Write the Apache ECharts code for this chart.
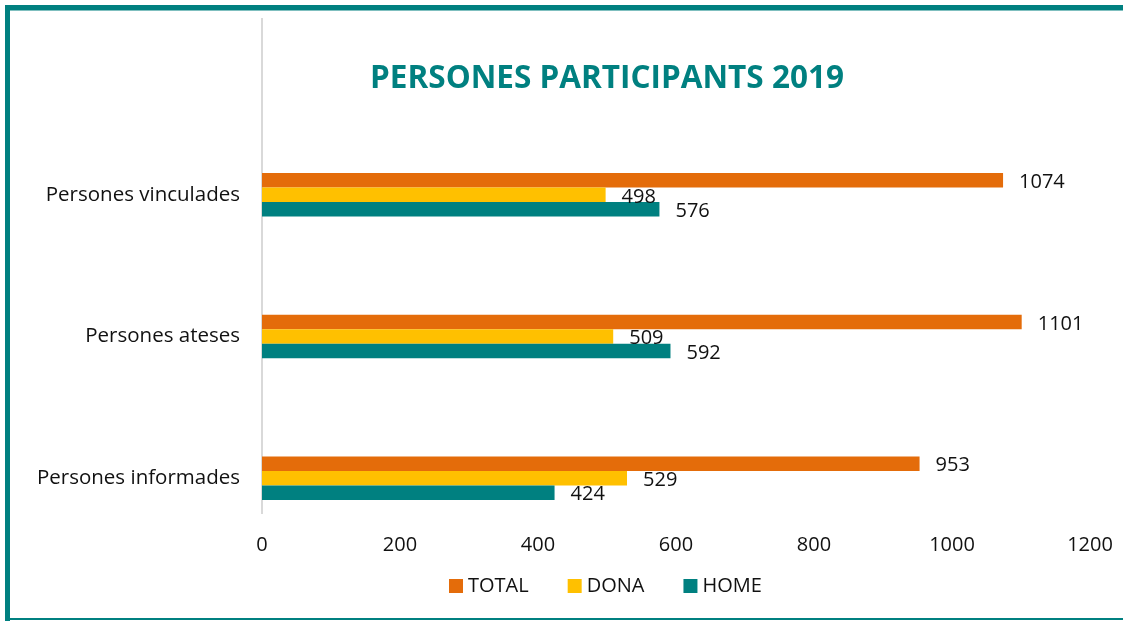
<!DOCTYPE html>
<html>
<head>
<meta charset="utf-8">
<script src="https://cdn.jsdelivr.net/npm/echarts@6/dist/echarts.min.js"></script>
<style>
html,body{margin:0;padding:0;background:#fff;}
#chart{width:1123px;height:621px;}
</style>
</head>
<body>
<div id="chart"></div>
<script>
var categories = ['Persones informades', 'Persones ateses', 'Persones vinculades'];
var totalValues = [953, 1101, 1074];
var donaValues = [529, 509, 498];
var homeValues = [424, 592, 576];
var seriesNames = ['TOTAL', 'DONA', 'HOME'];
var xTicks = [0, 200, 400, 600, 800, 1000, 1200];
var titleText = 'PERSONES PARTICIPANTS 2019';

var colors = {TOTAL: '#E46C0A', DONA: '#FFC000', HOME: '#008080'};
var FONT = 'Open Sans';

var chart = echarts.init(document.getElementById('chart'), null, {renderer: 'canvas'});

function barSeries(name, data) {
  return {
    name: name,
    type: 'bar',
    data: data,
    barWidth: 14.5,
    barGap: '0%',
    itemStyle: {color: colors[name]},
    label: {
      show: true,
      position: 'right',
      distance: 16,
      offset: [0, 2],
      color: '#111',
      fontFamily: FONT,
      fontSize: 20
    },
    emphasis: {disabled: true},
    animation: false
  };
}

var option = {
  animation: false,
  title: {
    text: titleText,
    left: 602,
    top: 58,
    textAlign: 'center',
    textStyle: {color: '#008080', fontFamily: FONT, fontWeight: 'bold', fontSize: 31.5}
  },
  legend: {
    data: seriesNames,
    left: 449,
    top: 576,
    padding: 0,
    icon: 'rect',
    itemWidth: 14,
    itemHeight: 14,
    itemGap: 39,
    textStyle: {color: '#111', fontFamily: FONT, fontSize: 20}
  },
  grid: {left: 262, right: 33, top: 124, bottom: 72, containLabel: false},
  xAxis: {
    type: 'value',
    min: xTicks[0],
    max: xTicks[xTicks.length - 1],
    interval: xTicks[1] - xTicks[0],
    axisLine: {show: false},
    axisTick: {show: false},
    splitLine: {show: false},
    axisLabel: {color: '#111', fontFamily: FONT, fontSize: 20, margin: -14, formatter: function (v) { return String(v); }}
  },
  yAxis: {
    type: 'category',
    data: categories,
    axisLine: {show: false},
    axisTick: {show: false},
    axisLabel: {color: '#111', fontFamily: FONT, fontSize: 20.5, margin: 22}
  },
  graphic: [
    {type: 'line', shape: {x1: 262, y1: 18, x2: 262, y2: 514}, style: {stroke: '#d9d9d9', lineWidth: 2}, silent: true},
    {type: 'rect', shape: {x: 5, y: 5, width: 1118, height: 5}, style: {fill: '#008080'}, silent: true},
    {type: 'rect', shape: {x: 5, y: 10, width: 1118, height: 1}, style: {fill: '#7fbfbf'}, silent: true},
    {type: 'rect', shape: {x: 5, y: 5, width: 5, height: 616}, style: {fill: '#008080'}, silent: true},
    {type: 'rect', shape: {x: 5, y: 618, width: 1118, height: 2}, style: {fill: '#008080'}, silent: true}
  ],
  series: [
    barSeries('TOTAL', totalValues),
    barSeries('DONA', donaValues),
    barSeries('HOME', homeValues)
  ]
};
chart.setOption(option);
</script>
</body>
</html>
